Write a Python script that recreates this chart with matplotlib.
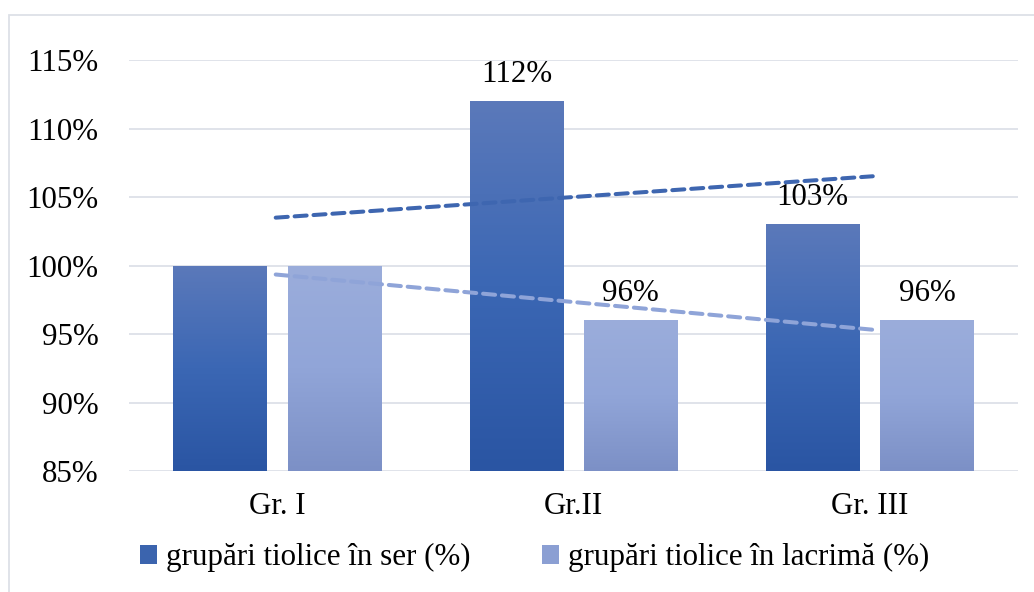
import numpy as np
import matplotlib
matplotlib.use('Agg')
import matplotlib.pyplot as plt
from matplotlib.colors import LinearSegmentedColormap
from matplotlib.patches import Rectangle

plt.rcParams['font.family'] = ['Liberation Serif', 'DejaVu Serif']

categories = ['Gr. I', 'Gr.II', 'Gr. III']
ser = [100, 112, 103]
lacrima = [100, 96, 96]
ser_labels = [None, '112%', '103%']
lacrima_labels = [None, '96%', '96%']
series_names = ['grupări tiolice în ser (%)', 'grupări tiolice în lacrimă (%)']
yticks = [85, 90, 95, 100, 105, 110, 115]

dark_cmap = LinearSegmentedColormap.from_list('dark', ['#2A55A3', '#3B67B4', '#5B79BA'])
light_cmap = LinearSegmentedColormap.from_list('light', ['#7C90C6', '#91A5D8', '#9BADDB'])
dark_trend = '#3E66B0'
light_trend = '#8FA4D8'
FS = 22.3

fig = plt.figure(figsize=(10.34, 5.92), dpi=100)
ax = fig.add_axes([0.1248, 0.2044, 0.8597, 0.6942])

# chart border (Excel style)
fig.patches.append(Rectangle((9 / 1034, -0.01), 1.02, 1 - 15 / 592 + 0.01,
                             transform=fig.transFigure, fill=False,
                             edgecolor='#DDE1E7', linewidth=1.3))

x = np.arange(len(categories))
w = 0.315
off = 0.193


def gradient_bars(xs, vals, cmap):
    bars = ax.bar(xs, vals, w, bottom=0, color='none', edgecolor='none', zorder=2)
    grad = np.linspace(0, 1, 256).reshape(-1, 1)
    for b in bars:
        x0, y0 = b.get_x(), 85
        x1, y1 = x0 + b.get_width(), b.get_height()
        im = ax.imshow(grad, cmap=cmap, origin='lower', aspect='auto',
                       extent=[x0, x1, y0, y1], zorder=2)
        im.set_clip_path(b)
    return bars


b1 = gradient_bars(x - off, ser, dark_cmap)
b2 = gradient_bars(x + off, lacrima, light_cmap)

for bars, labels in ((b1, ser_labels), (b2, lacrima_labels)):
    for b, lab in zip(bars, labels):
        if lab is None:
            continue
        ax.annotate(lab, (b.get_x() + b.get_width() / 2, b.get_height()),
                    xytext=(0, 19.5), textcoords='offset points',
                    ha='center', va='center', fontsize=FS, annotation_clip=False)

# linear trendlines
for vals, col in ((ser, dark_trend), (lacrima, light_trend)):
    k, c = np.polyfit(x, vals, 1)
    xt = np.array([x[0] - 0.005, x[-1] + 0.01])
    ax.plot(xt, k * xt + c, color=col, linewidth=2.9, linestyle=(0, (3.0, 1.7)),
            dash_capstyle='round', zorder=3)

ax.set_xlim(-0.5, 2.5)
ax.set_ylim(85, 115)
ax.set_yticks(yticks)
ax.set_yticklabels([f'{t}%' for t in yticks])
ax.set_xticks(x)
ax.set_xticklabels(categories)
ax.tick_params(axis='both', length=0, labelsize=FS)
ax.tick_params(axis='y', pad=22)
ax.tick_params(axis='x', pad=15)
ax.grid(axis='y', color='#DDE1E8', linewidth=1.3, zorder=0)
ax.set_axisbelow(True)
for s in ax.spines.values():
    s.set_visible(False)

handles = [Rectangle((0, 0), 1, 1, facecolor='#3B64AE'),
           Rectangle((0, 0), 1, 1, facecolor='#8B9FD3')]
fig.legend(handles, series_names, loc='center', bbox_to_anchor=(0.517, 0.058),
           ncol=2, frameon=False, fontsize=FS, handlelength=0.55, handleheight=0.55,
           handletextpad=0.3, columnspacing=2.3)

fig.savefig('out.png', dpi=100)
